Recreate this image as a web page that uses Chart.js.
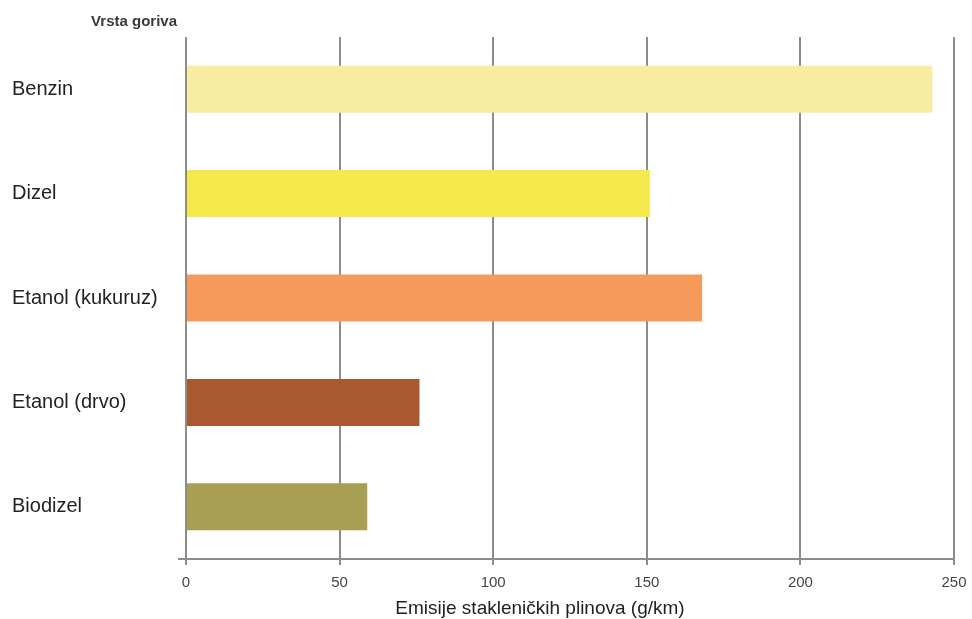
<!DOCTYPE html>
<html>
<head>
<meta charset="utf-8">
<script src="https://cdn.jsdelivr.net/npm/chart.js@4.4.0/dist/chart.umd.min.js"></script>
<style>
  html, body { margin: 0; padding: 0; background: #fff; }
  .chart-box { width: 972px; height: 619px; }
</style>
</head>
<body>
<div class="chart-box"><canvas id="myChart"></canvas></div>
<script>
const fuels = ["Benzin", "Dizel", "Etanol (kukuruz)", "Etanol (drvo)", "Biodizel"];
const emissions = [243, 151, 168, 76, 59];
const barColors = ["#f8eca2", "#f5e84c", "#f59a5a", "#a9582f", "#a89f52"];
const xTicks = [0, 50, 100, 150, 200, 250];
const yTitle = "Vrsta goriva";
const xTitle = "Emisije stakleničkih plinova (g/km)";

const fontFamily = "'Liberation Sans', Arial, Helvetica, sans-serif";

// axis captions: "Vrsta goriva" above the categories, x title a bit left of centre
// plus the small left overhang of the x axis line
const captions = {
  id: 'captions',
  afterDraw(chart) {
    const ctx = chart.ctx;
    const area = chart.chartArea;
    ctx.save();
    ctx.strokeStyle = "#8c8c8c";
    ctx.lineWidth = 2;
    ctx.beginPath();
    ctx.moveTo(area.left - 8, area.bottom);
    ctx.lineTo(area.left, area.bottom);
    ctx.stroke();

    ctx.font = "bold 15px " + fontFamily;
    ctx.fillStyle = "#3a3a3a";
    ctx.textAlign = "right";
    ctx.textBaseline = "middle";
    ctx.fillText(yTitle, area.left - 9, area.top - 15);

    ctx.font = "19px " + fontFamily;
    ctx.fillStyle = "#222";
    ctx.textAlign = "center";
    ctx.fillText(xTitle, (area.left + area.right) / 2 - 30, area.bottom + 50);
    ctx.restore();
  }
};

const ctx = document.getElementById("myChart").getContext("2d");
new Chart(ctx, {
  type: "bar",
  data: {
    labels: fuels,
    datasets: [{
      data: emissions,
      backgroundColor: barColors,
      borderWidth: 0,
      categoryPercentage: 1,
      barPercentage: 0.45
    }]
  },
  options: {
    indexAxis: "y",
    responsive: true,
    maintainAspectRatio: false,
    animation: false,
    layout: { padding: { left: 12, right: 18, top: 37, bottom: 0 } },
    plugins: {
      legend: { display: false },
      tooltip: { enabled: false }
    },
    scales: {
      x: {
        min: 0,
        max: 250,
        afterBuildTicks(scale) {
          scale.ticks = xTicks.map(v => ({ value: v }));
        },
        afterFit(scale) {
          scale.height = 60;
          scale.paddingLeft = 0;
          scale.paddingRight = 0;
        },
        grid: {
          color: "#8c8c8c",
          lineWidth: 2,
          drawTicks: true,
          tickLength: 6,
          tickColor: "#8c8c8c"
        },
        border: { display: true, color: "#8c8c8c", width: 2 },
        ticks: {
          padding: 9,
          color: "#444",
          font: { family: fontFamily, size: 15 }
        }
      },
      y: {
        afterFit(scale) { scale.width = 174; },
        grid: { display: false },
        border: { display: false },
        ticks: {
          crossAlign: "far",
          color: "#222",
          font: { family: fontFamily, size: 20 }
        }
      }
    }
  },
  plugins: [captions]
});
</script>
</body>
</html>
